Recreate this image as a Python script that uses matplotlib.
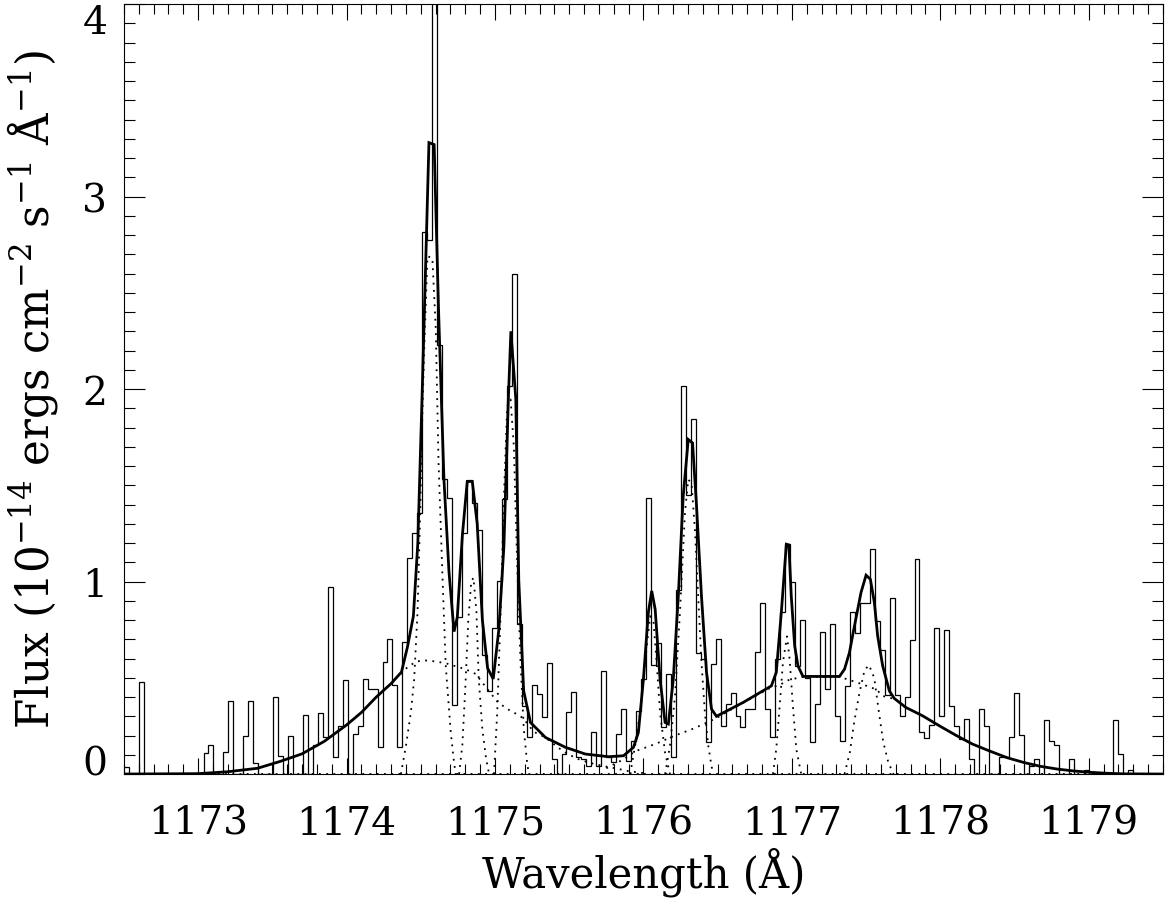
import numpy as np
import matplotlib
matplotlib.use("Agg")
import matplotlib.pyplot as plt
from matplotlib.ticker import MultipleLocator, FormatStrFormatter

# binned spectrum (flux per bin, bins of equal width starting at wave_start)
wave_start = 1172.5
bin_width = 0.0335
flux = [
    0.035, 0, 0, 0.476, 0, 0, 0, 0, 0, 0,
    0, 0, 0, 0, 0, 0, 0.107, 0.152, 0, 0,
    0.115, 0.38, 0, 0, 0.199, 0.38, 0.055, 0, 0, 0,
    0.398, 0.092, 0, 0.199, 0, 0, 0.306, 0, 0.15, 0.315,
    0.19, 0.972, 0.088, 0.25, 0.488, 0, 0.208, 0.25, 0.493, 0.441,
    0.441, 0.138, 0.58, 0.704, 0.462, 0.138, 0.687, 1.124, 1.254, 1.358,
    2.816, 2.776, 4.5, 2.23, 1.534, 1.436, 0.358, 0.818, 1.251, 1.527,
    1.41, 1.268, 0.618, 0.432, 0.761, 1.003, 1.431, 2.016, 2.597, 0.782,
    0.355, 0.19, 0.462, 0.415, 0.294, 0.576, 0.078, 0, 0.104, 0.323,
    0.424, 0.087, 0.078, 0.043, 0.216, 0.043, 0.536, 0.087, 0.06, 0.208,
    0.337, 0.07, 0.173, 0.33, 0.493, 1.432, 0.566, 0.683, 0.242, 0.519,
    0.087, 0.955, 2.015, 1.45, 1.846, 0.628, 0.60, 0.164, 0.57, 0.704,
    0.25, 0.363, 0.42, 0.303, 0.242, 0.337, 0.337, 0.635, 0.887, 0.337,
    0.195, 0.6, 0.844, 1.194, 0.998, 0.562, 0.8, 0.497, 0.168, 0.363,
    0.739, 0.441, 0.778, 0.303, 0.173, 0.458, 0.842, 0.735, 0.887, 0.887,
    1.168, 0.796, 0.645, 0.41, 0.913, 0.41, 0.303, 0.4, 0.697, 1.116,
    0.216, 0.187, 0.256, 0.758, 0.303, 0.747, 0.351, 0.25, 0.182, 0.285,
    0.078, 0, 0.337, 0.25, 0, 0, 0.087, 0.087, 0.19, 0.419,
    0.202, 0, 0.04, 0.078, 0, 0.282, 0.173, 0.15, 0, 0,
    0.08, 0, 0, 0.02, 0, 0, 0, 0, 0, 0.28,
    0.104, 0, 0.023, 0, 0, 0, 0, 0, 0,
]

# total fitted model (thick line)
model_wave = [1172.5, 1173.0, 1173.2, 1173.4, 1173.55, 1173.7, 1173.85, 1174.0, 1174.1,
              1174.2, 1174.3, 1174.37, 1174.41, 1174.45, 1174.48, 1174.51, 1174.555,
              1174.59, 1174.62, 1174.656, 1174.69, 1174.724, 1174.746, 1174.78,
              1174.813, 1174.847, 1174.88, 1174.915, 1174.95, 1174.988, 1175.026,
              1175.06, 1175.09, 1175.107, 1175.14, 1175.16, 1175.193, 1175.239,
              1175.34, 1175.474, 1175.608, 1175.765, 1175.866, 1175.933, 1175.966,
              1176.0, 1176.033, 1176.056, 1176.079, 1176.112, 1176.146, 1176.168,
              1176.201, 1176.235, 1176.268, 1176.302, 1176.331, 1176.358, 1176.391,
              1176.425, 1176.459, 1176.492, 1176.672, 1176.862, 1176.895, 1176.929,
              1176.963, 1176.98, 1176.996, 1177.019, 1177.041, 1177.075, 1177.321,
              1177.355, 1177.388, 1177.422, 1177.466, 1177.5, 1177.529, 1177.556,
              1177.578, 1177.612, 1177.657, 1177.69, 1177.768, 1177.88, 1177.993,
              1178.104, 1178.216, 1178.328, 1178.45, 1178.563, 1178.675, 1178.787,
              1178.899, 1179.011, 1179.123, 1179.235, 1179.5]
model_flux = [0, 0.002, 0.012, 0.03, 0.065, 0.105, 0.17, 0.255, 0.32,
              0.40, 0.47, 0.53, 0.66, 0.82, 1.2, 2.0, 3.28,
              3.27, 2.4, 1.53, 1.05, 0.74, 0.815, 1.24,
              1.52, 1.52, 1.30, 0.80, 0.55, 0.494, 0.752,
              1.185, 1.95, 2.3, 1.95, 1.01, 0.432, 0.268,
              0.19, 0.139, 0.104, 0.09, 0.095, 0.139, 0.216,
              0.493, 0.839, 0.951, 0.856, 0.493, 0.268, 0.26,
              0.49, 0.925, 1.444, 1.738, 1.72, 1.39, 0.925,
              0.528, 0.337, 0.30, 0.372, 0.458, 0.528, 0.839,
              1.194, 1.19, 0.925, 0.666, 0.562, 0.507, 0.507,
              0.545, 0.631, 0.77, 0.943, 1.033, 1.012, 0.891,
              0.718, 0.562, 0.432, 0.393, 0.346, 0.303, 0.251,
              0.202, 0.156, 0.121, 0.085, 0.06, 0.04, 0.026,
              0.016, 0.009, 0.004, 0.001, 0.0]

# individual fit components (dotted)
g1_wave = [1174.366, 1174.40, 1174.433, 1174.455, 1174.478, 1174.496, 1174.511, 1174.523,
           1174.545, 1174.578, 1174.601, 1174.619, 1174.645, 1174.668, 1174.702, 1174.724, 1174.735]
g1_flux = [0, 0.147, 0.32, 0.49, 0.84, 1.36, 1.88, 2.21, 2.69, 2.68, 2.31, 1.63, 1.05, 0.564,
           0.215, 0.06, 0]
g2_wave = [1174.758, 1174.78, 1174.80, 1174.82, 1174.84, 1174.855, 1174.875, 1174.89,
           1174.915, 1174.94, 1174.96]
g2_flux = [0, 0.15, 0.45, 0.8, 1.0, 1.02, 0.84, 0.5, 0.23, 0.08, 0]
g3_wave = [1174.993, 1175.015, 1175.038, 1175.06, 1175.082, 1175.105, 1175.127, 1175.149,
           1175.172, 1175.194, 1175.216, 1175.228]
g3_flux = [0, 0.32, 0.84, 1.44, 1.91, 1.946, 1.70, 1.10, 0.58, 0.234, 0.06, 0]
g4_wave = [1175.911, 1175.944, 1175.978, 1176.011, 1176.045, 1176.067, 1176.089, 1176.112,
           1176.146, 1176.179]
g4_flux = [0, 0.147, 0.32, 0.58, 0.82, 0.80, 0.58, 0.32, 0.11, 0]
g5_wave = [1176.146, 1176.179, 1176.213, 1176.246, 1176.28, 1176.302, 1176.324, 1176.347,
           1176.369, 1176.391, 1176.414, 1176.437, 1176.459, 1176.47]
g5_flux = [0, 0.147, 0.406, 0.84, 1.36, 1.53, 1.51, 1.27, 0.925, 0.58, 0.32, 0.147, 0.04, 0]
g6_wave = [1176.873, 1176.895, 1176.918, 1176.94, 1176.967, 1176.985, 1177.007, 1177.03,
           1177.063]
g6_flux = [0, 0.13, 0.354, 0.58, 0.715, 0.597, 0.354, 0.13, 0]
g7_wave = [1177.355, 1177.39, 1177.42, 1177.455, 1177.49, 1177.52, 1177.555, 1177.585,
           1177.615, 1177.65, 1177.685]
g7_flux = [0, 0.11, 0.27, 0.42, 0.54, 0.566, 0.5, 0.33, 0.17, 0.06, 0]
b1_wave = [1174.366, 1174.41, 1174.47, 1174.53, 1174.60, 1174.67, 1174.80, 1174.87, 1174.95,
           1175.02, 1175.10, 1175.15, 1175.19, 1175.26, 1175.34, 1175.42, 1175.49, 1175.56,
           1175.63, 1175.72, 1175.81, 1175.90, 1176.0]
b1_flux = [0.52, 0.555, 0.585, 0.59, 0.585, 0.575, 0.545, 0.52, 0.44,
           0.372, 0.33, 0.31, 0.29, 0.22, 0.19, 0.14, 0.104, 0.078,
           0.06, 0.043, 0.03, 0.015, 0.005]
b2_wave = [1175.75, 1175.85, 1175.95, 1176.08, 1176.21, 1176.34, 1176.42, 1176.49, 1176.67,
           1176.86, 1176.92, 1176.96, 1177.0, 1177.08, 1177.32, 1177.37, 1177.44, 1177.49,
           1177.53, 1177.57, 1177.61, 1177.69]
b2_flux = [0.03, 0.07, 0.12, 0.156, 0.199, 0.237, 0.265, 0.29, 0.37,
           0.45, 0.462, 0.484, 0.493, 0.505, 0.505, 0.493, 0.476, 0.462,
           0.45, 0.44, 0.406, 0.39]

plt.rcParams['font.family'] = ['DejaVu Serif']
plt.rcParams['mathtext.fontset'] = 'dejavuserif'

fig = plt.figure(figsize=(11.65, 9.03), dpi=100)
ax = fig.add_axes([0.1064, 0.1417, 0.8918, 0.8527])

edges = wave_start + bin_width * np.arange(len(flux) + 1)
ax.stairs(flux, edges, baseline=None, color='black', lw=0.9)

dots = (0, (1, 3))
ax.axhline(0, color='black', lw=1.3, ls=dots)
for w, f in [(g1_wave, g1_flux), (g2_wave, g2_flux), (g3_wave, g3_flux),
             (g4_wave, g4_flux), (g5_wave, g5_flux), (g6_wave, g6_flux),
             (g7_wave, g7_flux), (b1_wave, b1_flux), (b2_wave, b2_flux)]:
    ax.plot(w, f, color='black', lw=1.3, ls=dots)

ax.plot(model_wave, model_flux, color='black', lw=2.0, solid_joinstyle='miter')

ax.set_xlim(1172.5, 1179.5)
ax.set_ylim(0, 4)
ax.set_yticks([0, 1, 2, 3, 4])
ax.xaxis.set_major_locator(MultipleLocator(1))
ax.xaxis.set_minor_locator(MultipleLocator(0.1))
ax.yaxis.set_minor_locator(MultipleLocator(0.1))
ax.xaxis.set_major_formatter(FormatStrFormatter('%d'))
ax.yaxis.set_major_formatter(FormatStrFormatter('%d'))

ax.tick_params(which='both', direction='in', top=True, right=True, width=0.8)
ax.tick_params(axis='x', which='major', length=11.5, pad=22, labelsize=28.3)
ax.tick_params(axis='x', which='minor', length=7)
ax.tick_params(axis='y', which='major', length=15, pad=12, labelsize=28.3)
ax.tick_params(axis='y', which='minor', length=8)
for s in ax.spines.values():
    s.set_linewidth(0.8)

# keep the end labels inside the frame
ylabels = ax.get_yticklabels()
ylabels[0].set_va('baseline')
ylabels[-1].set_va('top')

ax.set_xlabel('Wavelength (Å)', fontsize=30)
ax.xaxis.set_label_coords(0.5, -0.0935)
ax.set_ylabel(r'Flux (10$^{-14}$ ergs cm$^{-2}$ s$^{-1}$ Å$^{-1}$)', fontsize=31.5)
ax.yaxis.set_label_coords(-0.0615, 0.5)

fig.savefig('out.png', dpi=100)
